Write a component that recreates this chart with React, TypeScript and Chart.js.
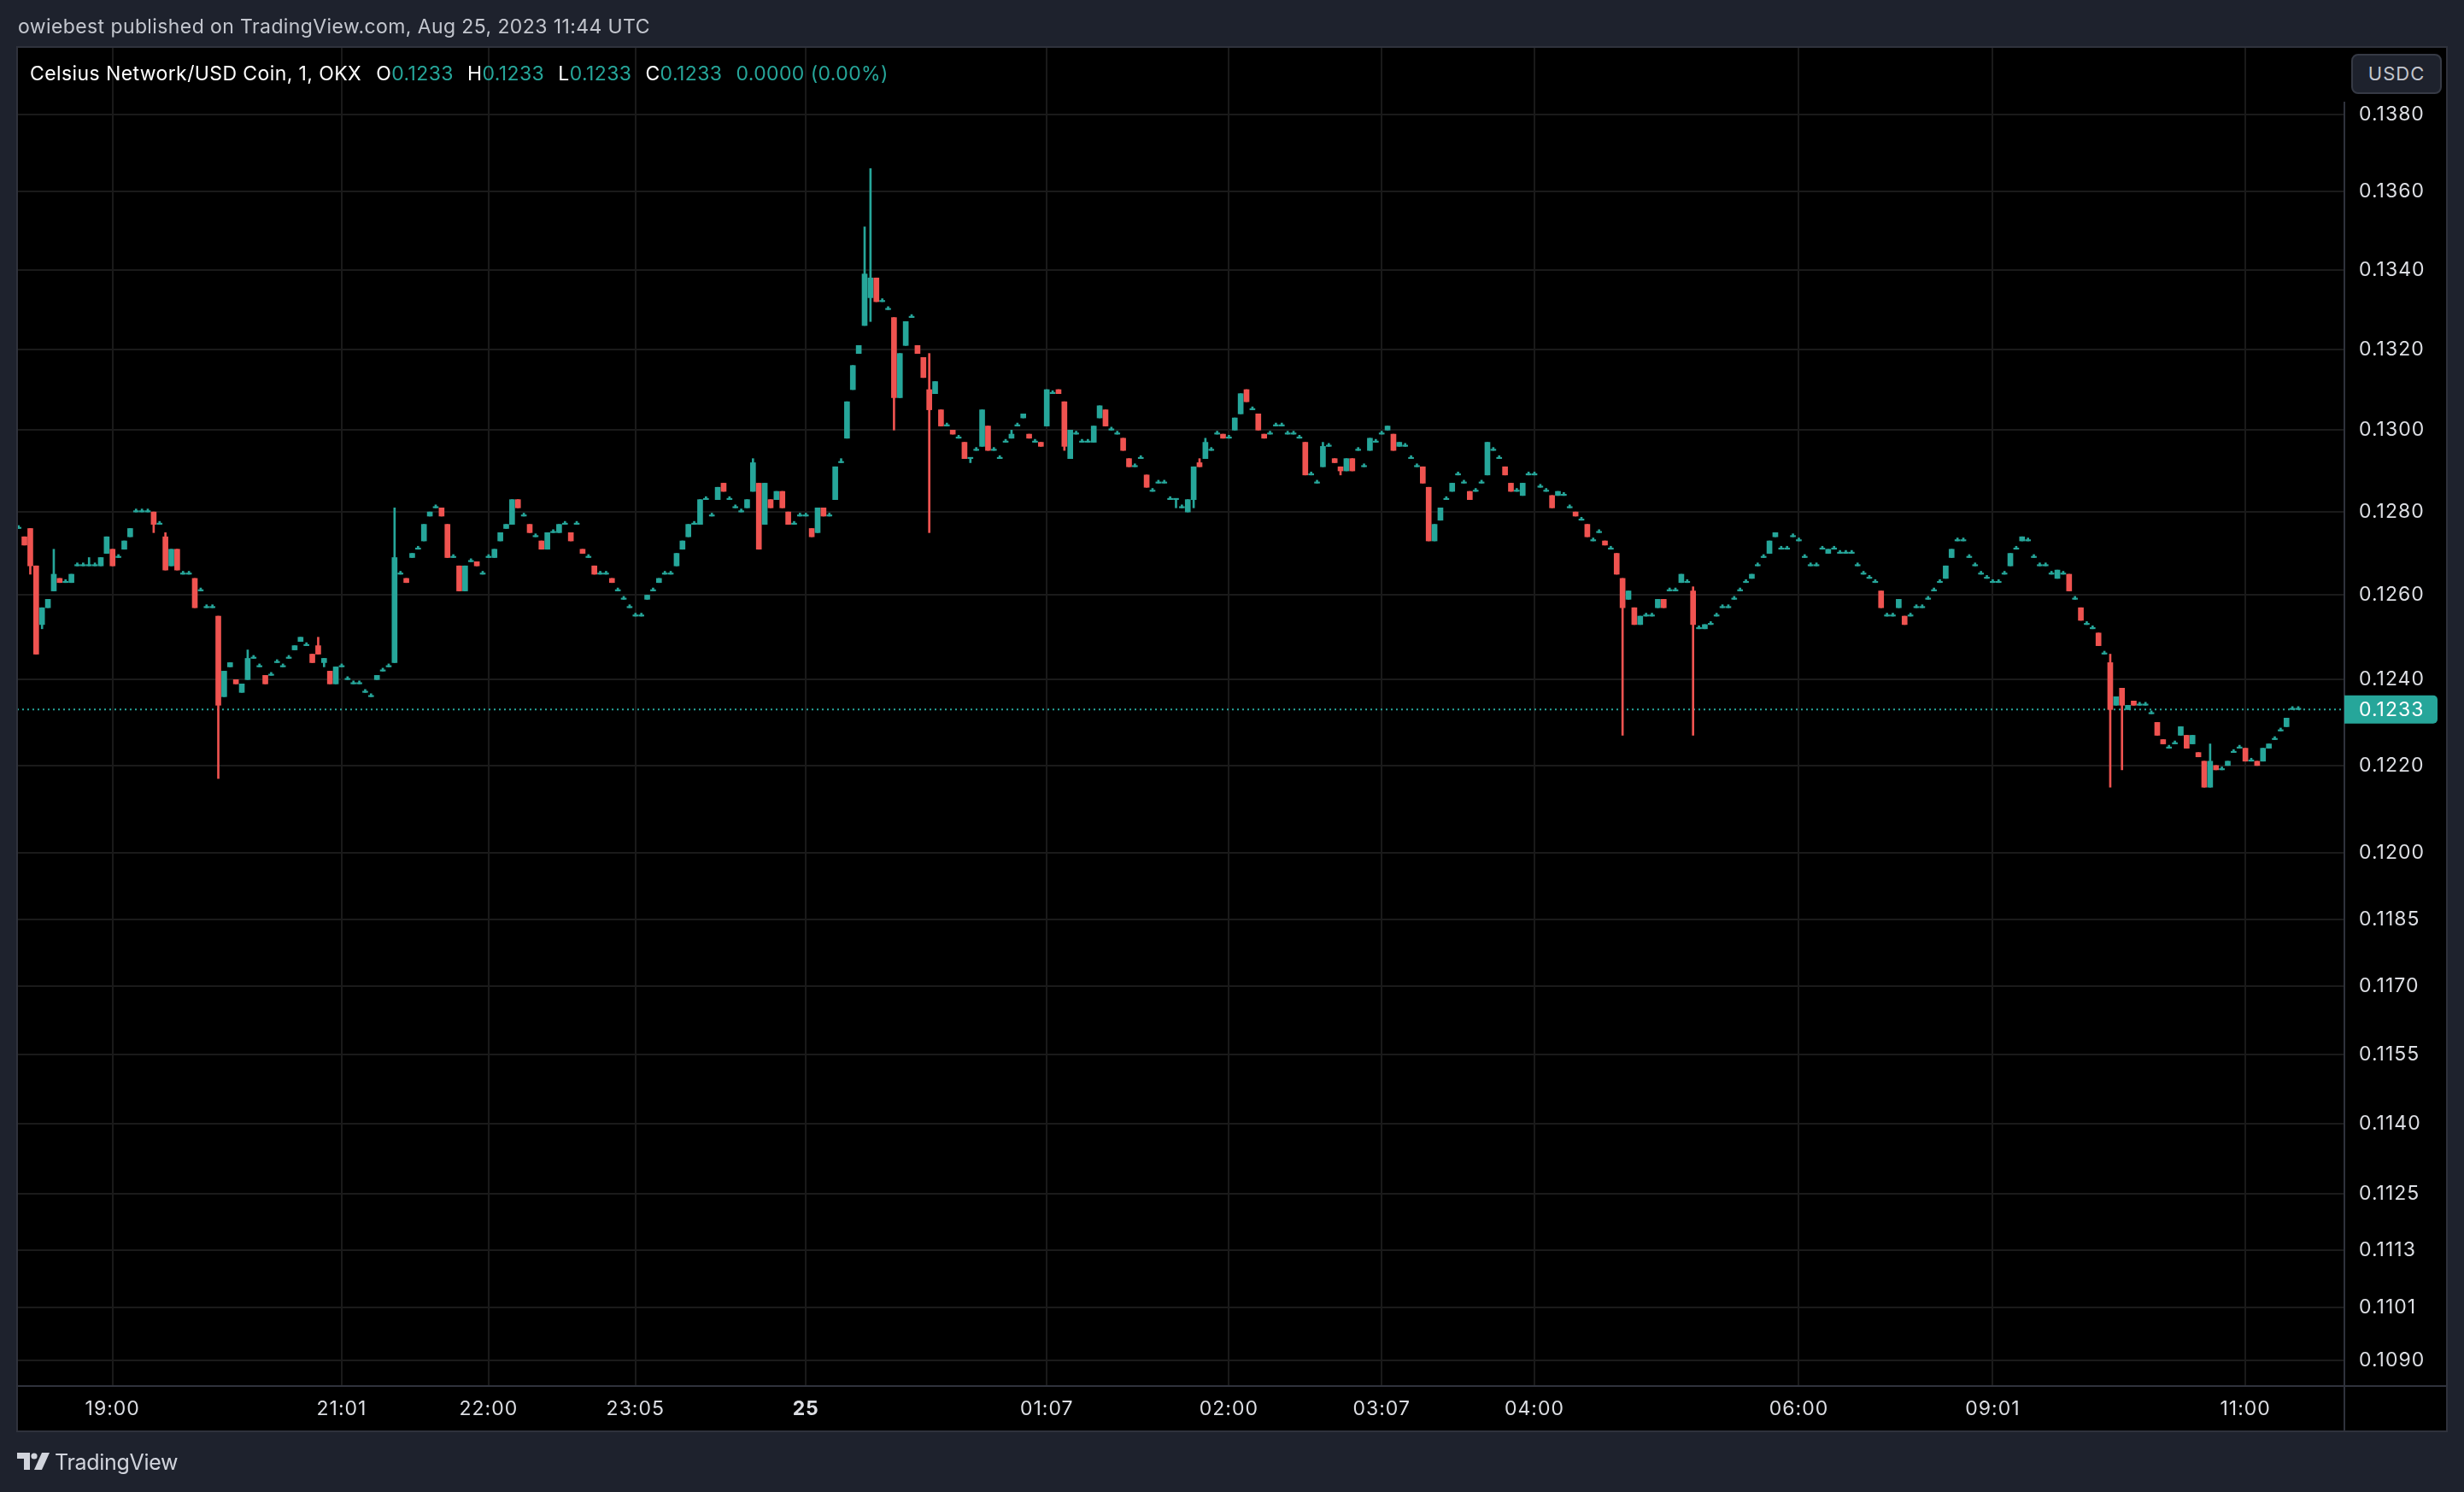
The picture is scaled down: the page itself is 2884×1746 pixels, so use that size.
import React, { useEffect, useRef } from "react";
import { Chart, registerables } from "chart.js";

Chart.register(...registerables);

// ---------------- DATA (prices in ticks of 0.0001 USDC, 1-minute candles) ----------------
const TICK = 0.0001;

const opens = [
  1276,1274,1276,1267,1253,1257,1261,1264,1263,1263,
  1267,1267,1267,1267,1267,1270,1271,1269,1271,1274,
  1280,1280,1280,1280,1277,1274,1267,1271,1265,1265,
  1264,1261,1257,1257,1255,1236,1243,1240,1237,1240,
  1245,1243,1241,1241,1244,1243,1245,1247,1249,1248,
  1246,1248,1244,1242,1239,1243,1240,1239,1239,1237,
  1236,1240,1242,1243,1244,1265,1264,1269,1271,1273,
  1279,1281,1281,1277,1269,1267,1261,1268,1268,1265,
  1269,1269,1273,1276,1277,1283,1279,1277,1274,1273,
  1271,1275,1275,1277,1275,1277,1271,1269,1267,1265,
  1265,1264,1261,1259,1257,1255,1255,1259,1261,1263,
  1265,1265,1267,1271,1274,1277,1277,1283,1279,1283,
  1287,1283,1281,1280,1281,1285,1287,1277,1283,1283,
  1285,1280,1277,1279,1279,1276,1275,1281,1279,1283,
  1292,1298,1310,1319,1326,1333,1338,1332,1330,1328,
  1308,1321,1328,1321,1318,1310,1309,1305,1301,1300,
  1298,1297,1293,1295,1296,1301,1295,1293,1297,1298,
  1301,1303,1299,1297,1297,1301,1309,1310,1307,1293,
  1299,1297,1297,1297,1303,1305,1300,1299,1298,1293,
  1291,1293,1289,1285,1287,1287,1283,1283,1281,1280,
  1283,1292,1293,1295,1299,1299,1298,1300,1304,1310,
  1305,1304,1299,1299,1301,1301,1299,1299,1298,1297,
  1289,1287,1291,1296,1293,1291,1290,1293,1295,1291,
  1295,1297,1299,1300,1299,1296,1296,1293,1291,1291,
  1286,1273,1278,1283,1285,1289,1287,1285,1285,1287,
  1289,1295,1293,1291,1287,1285,1284,1289,1289,1286,
  1285,1284,1284,1284,1281,1280,1278,1277,1273,1275,
  1273,1271,1270,1264,1259,1257,1253,1255,1255,1257,
  1259,1261,1261,1263,1263,1261,1252,1252,1253,1255,
  1257,1257,1259,1261,1263,1264,1267,1269,1270,1274,
  1271,1271,1274,1273,1269,1267,1267,1271,1270,1271,
  1270,1270,1270,1267,1265,1264,1263,1261,1255,1255,
  1257,1255,1255,1257,1257,1259,1261,1263,1264,1269,
  1273,1273,1269,1267,1265,1264,1263,1263,1265,1267,
  1271,1273,1273,1269,1267,1267,1265,1264,1265,1265,
  1259,1257,1253,1252,1251,1246,1244,1234,1238,1233,
  1235,1234,1234,1232,1230,1226,1224,1225,1227,1227,
  1225,1223,1221,1215,1220,1219,1220,1223,1224,1224,
  1221,1221,1221,1224,1226,1228,1229,1233,1233,
];

const highs = [
  1276,1274,1276,1267,1257,1259,1271,1264,1263,1265,
  1267,1267,1269,1267,1269,1274,1271,1269,1273,1276,
  1280,1280,1280,1280,1277,1275,1271,1271,1265,1265,
  1264,1261,1257,1257,1255,1242,1244,1240,1239,1247,
  1245,1243,1241,1241,1244,1243,1245,1248,1250,1248,
  1246,1250,1245,1242,1243,1243,1240,1239,1239,1237,
  1236,1241,1242,1243,1281,1265,1264,1270,1271,1277,
  1280,1281,1281,1277,1269,1267,1267,1268,1268,1265,
  1269,1271,1275,1277,1283,1283,1279,1277,1274,1273,
  1275,1275,1277,1277,1275,1277,1271,1269,1267,1265,
  1265,1264,1261,1259,1257,1255,1255,1260,1261,1264,
  1265,1265,1270,1273,1277,1277,1283,1283,1279,1286,
  1287,1283,1281,1280,1283,1293,1287,1287,1283,1285,
  1285,1280,1277,1279,1279,1276,1281,1281,1279,1291,
  1293,1307,1316,1321,1351,1366,1338,1332,1330,1328,
  1319,1327,1328,1321,1318,1319,1312,1305,1301,1300,
  1298,1297,1293,1295,1305,1301,1295,1293,1297,1300,
  1301,1304,1299,1297,1297,1310,1309,1310,1307,1300,
  1299,1297,1297,1301,1306,1305,1300,1299,1298,1293,
  1291,1293,1289,1285,1287,1287,1283,1283,1281,1283,
  1291,1293,1298,1295,1299,1299,1298,1303,1309,1310,
  1305,1304,1299,1299,1301,1301,1299,1299,1298,1297,
  1289,1287,1297,1296,1293,1291,1293,1293,1295,1291,
  1298,1297,1299,1301,1299,1297,1296,1293,1291,1291,
  1286,1277,1281,1283,1287,1289,1287,1285,1285,1287,
  1297,1295,1293,1291,1287,1285,1287,1289,1289,1286,
  1285,1284,1285,1284,1281,1280,1278,1277,1273,1275,
  1273,1271,1270,1264,1261,1257,1255,1255,1255,1259,
  1259,1261,1261,1265,1263,1262,1252,1253,1253,1255,
  1257,1257,1259,1261,1263,1265,1267,1269,1273,1275,
  1271,1271,1274,1273,1269,1267,1267,1271,1271,1271,
  1270,1270,1270,1267,1265,1264,1263,1261,1255,1255,
  1259,1255,1255,1257,1257,1259,1261,1263,1267,1271,
  1273,1273,1269,1267,1265,1264,1263,1263,1265,1270,
  1271,1274,1273,1269,1267,1267,1265,1266,1265,1265,
  1259,1257,1253,1252,1251,1246,1246,1236,1238,1234,
  1235,1234,1234,1232,1230,1226,1224,1225,1229,1227,
  1227,1223,1221,1225,1220,1219,1221,1223,1224,1224,
  1221,1221,1224,1225,1226,1228,1231,1233,1233,
];

const lows = [
  1276,1272,1265,1246,1252,1257,1261,1263,1263,1263,
  1267,1267,1267,1267,1267,1270,1267,1269,1271,1274,
  1280,1280,1280,1275,1277,1266,1267,1266,1265,1265,
  1257,1261,1257,1257,1217,1236,1243,1239,1237,1240,
  1245,1243,1239,1241,1244,1243,1245,1247,1249,1248,
  1244,1246,1243,1239,1239,1243,1240,1239,1239,1237,
  1236,1240,1242,1243,1244,1265,1263,1269,1271,1273,
  1279,1281,1279,1269,1269,1261,1261,1268,1267,1265,
  1269,1269,1273,1276,1277,1281,1279,1275,1274,1271,
  1271,1275,1275,1277,1273,1277,1270,1269,1265,1265,
  1265,1263,1261,1259,1257,1255,1255,1259,1261,1263,
  1265,1265,1267,1271,1274,1277,1277,1283,1279,1283,
  1285,1283,1281,1280,1281,1285,1271,1277,1281,1283,
  1281,1277,1277,1279,1279,1274,1275,1279,1279,1283,
  1292,1298,1310,1319,1326,1327,1332,1332,1330,1300,
  1308,1321,1328,1319,1313,1275,1309,1301,1301,1299,
  1298,1293,1292,1295,1296,1295,1295,1293,1297,1298,
  1301,1303,1298,1297,1296,1301,1309,1309,1295,1293,
  1299,1297,1297,1297,1303,1301,1300,1299,1295,1291,
  1291,1293,1286,1285,1287,1287,1283,1281,1281,1280,
  1281,1291,1293,1295,1299,1298,1298,1300,1304,1307,
  1305,1300,1298,1299,1301,1301,1299,1299,1298,1289,
  1289,1287,1291,1296,1292,1289,1290,1290,1295,1291,
  1295,1297,1299,1300,1295,1296,1296,1293,1291,1287,
  1273,1273,1278,1283,1285,1289,1287,1283,1285,1287,
  1289,1295,1293,1289,1285,1285,1284,1289,1289,1286,
  1285,1281,1284,1284,1281,1279,1278,1274,1273,1275,
  1272,1271,1265,1227,1259,1253,1253,1255,1255,1257,
  1257,1261,1261,1263,1263,1227,1252,1252,1253,1255,
  1257,1257,1259,1261,1263,1264,1267,1269,1270,1274,
  1271,1271,1274,1273,1269,1267,1267,1271,1270,1271,
  1270,1270,1270,1267,1265,1264,1263,1257,1255,1255,
  1257,1253,1255,1257,1257,1259,1261,1263,1264,1269,
  1273,1273,1269,1267,1265,1264,1263,1263,1265,1267,
  1271,1273,1273,1269,1267,1267,1265,1264,1265,1261,
  1259,1254,1253,1252,1248,1246,1215,1234,1219,1233,
  1234,1234,1234,1232,1227,1225,1224,1225,1227,1224,
  1225,1222,1215,1215,1219,1219,1220,1223,1224,1221,
  1221,1220,1221,1224,1226,1228,1229,1233,1233,
];

const closes = [
  1276,1272,1267,1246,1257,1259,1265,1263,1263,1265,
  1267,1267,1267,1267,1269,1274,1267,1269,1273,1276,
  1280,1280,1280,1277,1277,1266,1271,1266,1265,1265,
  1257,1261,1257,1257,1234,1242,1244,1239,1239,1245,
  1245,1243,1239,1241,1244,1243,1245,1248,1250,1248,
  1244,1246,1245,1239,1243,1243,1240,1239,1239,1237,
  1236,1241,1242,1243,1269,1265,1263,1270,1271,1277,
  1280,1281,1279,1269,1269,1261,1267,1268,1267,1265,
  1269,1271,1275,1277,1283,1281,1279,1275,1274,1271,
  1275,1275,1277,1277,1273,1277,1270,1269,1265,1265,
  1265,1263,1261,1259,1257,1255,1255,1260,1261,1264,
  1265,1265,1270,1273,1277,1277,1283,1283,1279,1286,
  1285,1283,1281,1280,1283,1292,1271,1287,1281,1285,
  1281,1277,1277,1279,1279,1274,1281,1279,1279,1291,
  1292,1307,1316,1321,1339,1338,1332,1332,1330,1308,
  1319,1327,1328,1319,1313,1305,1312,1301,1301,1299,
  1298,1293,1293,1295,1305,1295,1295,1293,1297,1299,
  1301,1304,1298,1297,1296,1310,1309,1309,1296,1300,
  1299,1297,1297,1301,1306,1301,1300,1299,1295,1291,
  1291,1293,1286,1285,1287,1287,1283,1283,1281,1283,
  1291,1291,1297,1295,1299,1298,1298,1303,1309,1307,
  1305,1300,1298,1299,1301,1301,1299,1299,1298,1289,
  1289,1287,1296,1296,1292,1290,1293,1290,1295,1291,
  1298,1297,1299,1301,1295,1297,1296,1293,1291,1287,
  1273,1277,1281,1283,1287,1289,1287,1283,1285,1287,
  1297,1295,1293,1289,1285,1285,1287,1289,1289,1286,
  1285,1281,1285,1284,1281,1279,1278,1274,1273,1275,
  1272,1271,1265,1257,1261,1253,1255,1255,1255,1259,
  1257,1261,1261,1265,1263,1253,1252,1253,1253,1255,
  1257,1257,1259,1261,1263,1265,1267,1269,1273,1275,
  1271,1271,1274,1273,1269,1267,1267,1271,1271,1271,
  1270,1270,1270,1267,1265,1264,1263,1257,1255,1255,
  1259,1253,1255,1257,1257,1259,1261,1263,1267,1271,
  1273,1273,1269,1267,1265,1264,1263,1263,1265,1270,
  1271,1274,1273,1269,1267,1267,1265,1266,1265,1261,
  1259,1254,1253,1252,1248,1246,1233,1236,1234,1234,
  1234,1234,1234,1232,1227,1225,1224,1225,1229,1224,
  1227,1222,1215,1221,1219,1219,1221,1223,1224,1221,
  1221,1220,1224,1225,1226,1228,1231,1233,1233,
];

const priceTicks = [
  0.138, 0.136, 0.134, 0.132, 0.13, 0.128, 0.126, 0.124, 0.122, 0.12,
  0.1185, 0.117, 0.1155, 0.114, 0.1125, 0.1113, 0.1101, 0.109,
];
const timeTickIndex = [16, 55, 80, 105, 134, 175, 206, 232, 258, 303, 336, 379];
const timeTickLabels = ["19:00", "21:01", "22:00", "23:05", "25", "01:07", "02:00", "03:07", "04:00", "06:00", "09:01", "11:00"];
const dayTickLabel = "25";

const headerText = "owiebest published on TradingView.com, Aug 25, 2023 11:44 UTC";
const symbolText = "Celsius Network/USD Coin, 1, OKX";
const currencyText = "USDC";

// ---------------- LAYOUT / STYLE ----------------
const W = 2884;
const H = 1746;
const PANEL = { left: 20, top: 55, right: 2864, bottom: 1675 };
const PLOT_RIGHT = 2744;
const PLOT_BOTTOM = 1622;
const X_MIN = -0.247;
const X_MAX = 395.85;
const Y_MIN = 0.108475;
const Y_MAX = 0.139781;

const UP = "#26a69a";
const DOWN = "#ef5350";
const PAGE_BG = "#1e222d";
const FRAME = "#2f323c";
const GRID = "#1a1a1a";
const AXIS_TEXT = "#dcdee3";
const FONT = "Inter, 'Noto Sans', sans-serif";

const n = closes.length;
const lastPrice = closes[n - 1] * TICK;
const lastOpen = opens[n - 1] * TICK;
const lastHigh = highs[n - 1] * TICK;
const lastLow = lows[n - 1] * TICK;
const change = (closes[n - 1] - closes[n - 2]) * TICK;
const changePct = (change / (closes[n - 2] * TICK)) * 100;

const chromePlugin = {
  id: "tvChrome",
  beforeDraw(chart: any) {
    const ctx = chart.ctx;
    ctx.save();
    ctx.fillStyle = PAGE_BG;
    ctx.fillRect(0, 0, chart.width, chart.height);
    ctx.fillStyle = "#000000";
    ctx.fillRect(PANEL.left, PANEL.top, PANEL.right - PANEL.left, PANEL.bottom - PANEL.top);
    ctx.restore();
    // slightly wider tracking for axis labels, as in the original
    try {
      (ctx as any).letterSpacing = "1px";
    } catch (e) {
      /* ignore */
    }
  },
  afterDraw(chart: any) {
    const { ctx, chartArea, scales } = chart;
    ctx.save();
    ctx.strokeStyle = FRAME;
    ctx.lineWidth = 2;
    ctx.beginPath();
    ctx.moveTo(PANEL.left, chartArea.bottom);
    ctx.lineTo(PANEL.right, chartArea.bottom);
    ctx.stroke();
    ctx.beginPath();
    ctx.moveTo(chartArea.right, 119);
    ctx.lineTo(chartArea.right, PANEL.bottom);
    ctx.stroke();
    ctx.strokeRect(PANEL.left, PANEL.top, PANEL.right - PANEL.left, PANEL.bottom - PANEL.top);

    const y = scales.y.getPixelForValue(lastPrice);
    ctx.fillStyle = UP;
    ctx.beginPath();
    if (ctx.roundRect) {
      ctx.roundRect(chartArea.right, y - 16.5, 109, 33, [0, 5, 5, 0]);
    } else {
      ctx.rect(chartArea.right, y - 16.5, 109, 33);
    }
    ctx.fill();
    ctx.fillStyle = "#ffffff";
    ctx.font = `23px ${FONT}`;
    ctx.textAlign = "left";
    ctx.textBaseline = "middle";
    ctx.fillText(lastPrice.toFixed(4), chartArea.right + 17, y + 1);
    ctx.restore();
  },
};

export default function App() {
  const canvasRef = useRef<HTMLCanvasElement | null>(null);

  useEffect(() => {
    const canvas = canvasRef.current;
    if (!canvas) return;
    const colors = opens.map((o, i) => (closes[i] >= o ? UP : DOWN));
    const bodyData = opens.map((o, i) => ({ x: i, y: [o * TICK, closes[i] * TICK] }));
    const wickData = lows.map((l, i) => ({ x: i, y: [l * TICK, highs[i] * TICK] }));

    const chart = new Chart(canvas, {
      type: "bar",
      data: {
        datasets: [
          {
            type: "bar",
            data: bodyData as any,
            backgroundColor: colors,
            borderWidth: 0,
            barThickness: 6,
            grouped: false,
            minBarLength: 1.5,
            order: 1,
          } as any,
          {
            type: "bar",
            data: wickData as any,
            backgroundColor: colors,
            borderWidth: 0,
            barThickness: 2,
            grouped: false,
            minBarLength: 3.5,
            order: 2,
          } as any,
          {
            type: "line",
            data: [
              { x: X_MIN, y: lastPrice },
              { x: X_MAX, y: lastPrice },
            ],
            borderColor: UP,
            borderWidth: 2,
            borderDash: [2, 4],
            pointRadius: 0,
            fill: false,
            order: 3,
          } as any,
        ],
      },
      options: {
        animation: false,
        responsive: false,
        devicePixelRatio: 1,
        events: [],
        layout: {
          padding: {
            left: PANEL.left,
            top: PANEL.top,
            right: W - PANEL.right,
            bottom: H - PANEL.bottom,
          },
        },
        plugins: {
          legend: { display: false },
          tooltip: { enabled: false },
        },
        scales: {
          x: {
            type: "linear",
            min: X_MIN,
            max: X_MAX,
            bounds: "data",
            offset: false,
            grid: { color: GRID, lineWidth: 2, drawTicks: false, offset: false },
            border: { display: false },
            afterBuildTicks: (scale: any) => {
              scale.ticks = timeTickIndex.map((v) => ({ value: v }));
            },
            afterFit: (scale: any) => {
              scale.height = PANEL.bottom - PLOT_BOTTOM;
            },
            ticks: {
              autoSkip: false,
              maxRotation: 0,
              minRotation: 0,
              padding: 13,
              color: AXIS_TEXT,
              font: (ctx: any) => ({
                family: FONT,
                size: 23,
                weight:
                  ctx.tick && timeTickLabels[timeTickIndex.indexOf(ctx.tick.value)] === dayTickLabel
                    ? "bold"
                    : "normal",
              }),
              callback: (value: any) => {
                const k = timeTickIndex.indexOf(Number(value));
                return k >= 0 ? timeTickLabels[k] : "";
              },
            },
          } as any,
          y: {
            type: "logarithmic",
            position: "right",
            min: Y_MIN,
            max: Y_MAX,
            bounds: "data",
            beginAtZero: false,
            grid: { color: GRID, lineWidth: 2, drawTicks: false },
            border: { display: false },
            afterBuildTicks: (scale: any) => {
              scale.ticks = priceTicks.map((v) => ({ value: v }));
            },
            afterFit: (scale: any) => {
              scale.width = PANEL.right - PLOT_RIGHT;
            },
            ticks: {
              autoSkip: false,
              padding: 17,
              crossAlign: "near",
              color: AXIS_TEXT,
              font: { family: FONT, size: 23 },
              callback: (value: any) => Number(value).toFixed(4),
            },
          } as any,
        },
      },
      plugins: [chromePlugin as any],
    });
    return () => chart.destroy();
  }, []);

  const teal = { color: UP };
  return (
    <div
      style={{
        position: "absolute",
        left: 0,
        top: 0,
        width: W,
        height: H,
        background: PAGE_BG,
        overflow: "hidden",
        fontFamily: FONT,
      }}
    >
      <canvas
        ref={canvasRef}
        width={W}
        height={H}
        style={{ position: "absolute", left: 0, top: 0, width: W, height: H, display: "block" }}
      />
      <div
        style={{
          position: "absolute",
          left: 21,
          top: 18,
          fontSize: 23,
          lineHeight: "26px",
          letterSpacing: 0.4,
          color: "#c3c6ce",
          whiteSpace: "nowrap",
        }}
      >
        {headerText}
      </div>
      <div
        style={{
          position: "absolute",
          left: 35,
          top: 73,
          fontSize: 23,
          lineHeight: "26px",
          letterSpacing: 0.4,
          color: "#ffffff",
          whiteSpace: "nowrap",
        }}
      >
        <span>{symbolText}</span>
        <span style={{ marginLeft: 17 }}>O</span>
        <span style={teal}>{lastOpen.toFixed(4)}</span>
        <span style={{ marginLeft: 16 }}>H</span>
        <span style={teal}>{lastHigh.toFixed(4)}</span>
        <span style={{ marginLeft: 16 }}>L</span>
        <span style={teal}>{lastLow.toFixed(4)}</span>
        <span style={{ marginLeft: 16 }}>C</span>
        <span style={teal}>{lastPrice.toFixed(4)}</span>
        <span style={{ ...teal, marginLeft: 16 }}>
          {change.toFixed(4)} ({changePct.toFixed(2)}%)
        </span>
      </div>
      <div
        style={{
          position: "absolute",
          left: 2752,
          top: 63,
          width: 102,
          height: 43,
          border: "2px solid #363a45",
          borderRadius: 8,
          background: PAGE_BG,
          color: "#c3c6ce",
          fontSize: 22,
          lineHeight: "43px",
          textAlign: "center",
          letterSpacing: 1,
        }}
      >
        {currencyText}
      </div>
      <div style={{ position: "absolute", left: 20, top: 1700, width: 40, height: 20 }}>
        <svg width="40" height="20" viewBox="0 0 40 20">
          <path d="M0 0 H15 V20 H8 V7 H0 Z" fill="#d1d4dc" />
          <circle cx="20" cy="4" r="3.6" fill="#d1d4dc" />
          <path d="M29 0 H38 L29 20 H20 Z" fill="#d1d4dc" />
        </svg>
      </div>
      <div
        style={{
          position: "absolute",
          left: 64,
          top: 1696,
          fontSize: 25,
          lineHeight: "30px",
          color: "#d1d4dc",
          whiteSpace: "nowrap",
          letterSpacing: -0.3,
        }}
      >
        TradingView
      </div>
    </div>
  );
}
